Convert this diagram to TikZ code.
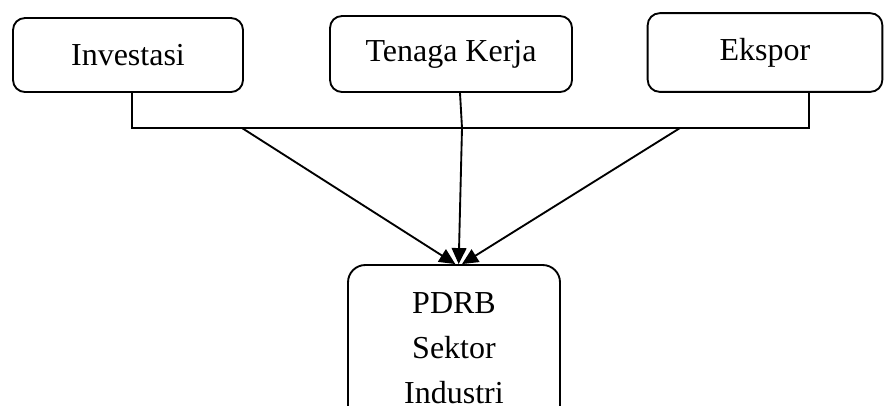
\documentclass[tikz,border=0pt]{standalone}
\usepackage{fontspec}
\setmainfont{Liberation Serif}
\usetikzlibrary{arrows.meta,positioning}

\begin{document}
\begin{tikzpicture}[x=0.75pt,y=-0.75pt]
\tikzset{BoxStyle/.style = {draw, rounded corners=9pt, line width=1.4pt, align=center, font=\fontsize{24}{34}\selectfont}}
\tikzset{LineStyle/.style = {line width=1.4pt}}
\tikzset{ArrowStyle/.style = {LineStyle, -{Triangle[length=12pt,width=11pt]}}}
\useasboundingbox (0,0) rectangle (884,405);
\clip (0,0) rectangle (884,405);
% top row
\node[BoxStyle, minimum width=172.5pt, minimum height=55.5pt](inv) at (128,55){Investasi};
\node[BoxStyle, minimum width=181.5pt, minimum height=57pt](tk) at (451,54){Tenaga Kerja};
\node[BoxStyle, minimum width=176pt, minimum height=59pt](eks) at (765,52.5){Ekspor};
% result
\node[BoxStyle, rounded corners=13pt, minimum width=159pt, minimum height=124.5pt](pdrb) at (454,348){PDRB\\Sektor\\Industri};
% bus line
\coordinate (jl) at (132,128);
\coordinate (jr) at (809,128);
\coordinate (jm) at (462,128);
\coordinate (a1) at (242,128);
\coordinate (a3) at (680,128);
\draw[LineStyle](inv.south -| jl) -- (jl) -- (jr) -- (eks.south -| jr);
\draw[LineStyle]([xshift=6.75pt]tk.south) -- (jm);
\draw[ArrowStyle](a1) -- ([xshift=1pt]pdrb.north);
\draw[ArrowStyle](jm) -- ([xshift=3.5pt]pdrb.north);
\draw[ArrowStyle](a3) -- ([xshift=6pt]pdrb.north);
\end{tikzpicture}
\end{document}
